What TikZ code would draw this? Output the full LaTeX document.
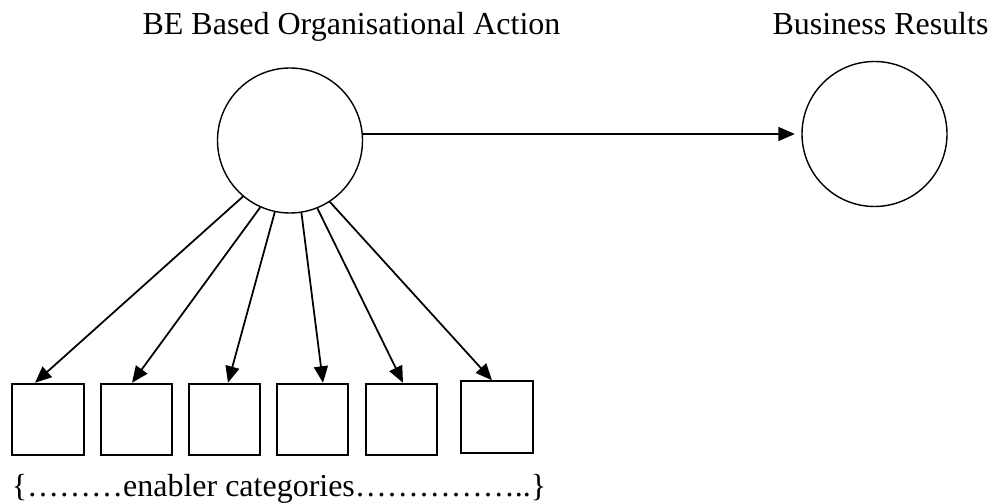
\documentclass[tikz,border=0pt]{standalone}
\usepackage{fontspec}
\setmainfont{Liberation Serif}
\usetikzlibrary{arrows.meta}

\begin{document}
\begin{tikzpicture}[
    latent/.style={draw, circle, line width=0.8pt, minimum size=2.9cm, inner sep=0pt},
    enabler/.style={draw, rectangle, line width=1.1pt, minimum size=1.43cm, inner sep=0pt},
    link/.style={-{Triangle[length=3.3mm,width=2.8mm]}, line width=1pt},
    every node/.style={font=\fontsize{18.2}{22}\selectfont}
  ]
  \useasboundingbox (0,0) rectangle (19.86,10.08);
  % the two constructs
  \node [latent] (bea) at (5.80,7.27) {};
  \node [latent] (res) at (17.49,7.40) {};
  \node [anchor=base] (beatitle) at (7.03,9.38) {BE Based Organisational Action};
  \node [anchor=base] (restitle) at (17.61,9.38) {Business Results};
  % indicator boxes
  \node [enabler] (c1) at (0.96,1.69) {};
  \node [enabler] (c2) at (2.73,1.69) {};
  \node [enabler] (c3) at (4.49,1.69) {};
  \node [enabler] (c4) at (6.25,1.69) {};
  \node [enabler] (c5) at (8.03,1.69) {};
  \node [enabler] (c6) at (9.94,1.74) {};
  \node [anchor=base] (cats) at (5.58,0.14) {\{………enabler categories……………..\}};
  % loadings and the structural path
  \draw [link] (bea.230.7) -- ([xshift=-2.6mm]c1.north);
  \draw [link] (bea.246) -- ([xshift=-0.9mm]c2.north);
  \draw [link] (bea.258) -- ([xshift=0.7mm]c3.north);
  \draw [link] (bea.279) -- ([xshift=2.1mm]c4.north);
  \draw [link] (bea.292) -- ([xshift=0.3mm]c5.north);
  \draw [link] (bea.303) -- ([xshift=-1mm]c6.north);
  \draw [link, shorten >=1.3mm] (bea.5) -- (res.west);
\end{tikzpicture}
\end{document}
